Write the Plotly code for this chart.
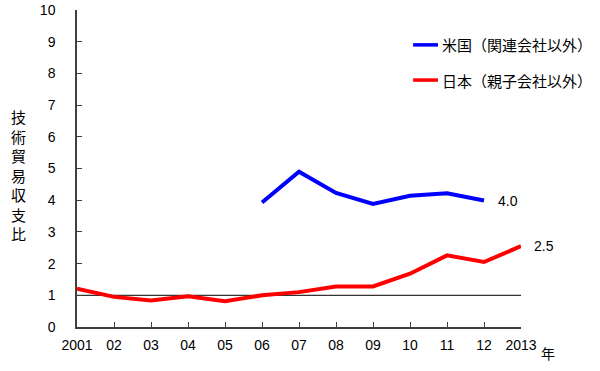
import plotly.graph_objects as go

years = list(range(2001, 2014))
tick_labels = ["2001", "02", "03", "04", "05", "06", "07", "08", "09", "10", "11", "12", "2013"]
us_years = list(range(2006, 2013))
us_values = [3.93, 4.90, 4.23, 3.88, 4.14, 4.22, 3.99]
jp_values = [1.21, 0.95, 0.84, 0.97, 0.81, 1.00, 1.10, 1.28, 1.28, 1.68, 2.26, 2.05, 2.55]
us_name = "米国（関連会社以外）"
jp_name = "日本（親子会社以外）"
y_title = "技術貿易収支比"
us_color = "#0000ff"
jp_color = "#ff0000"

num_font = "Liberation Sans, Arial, sans-serif"
jp_font = "Noto Sans CJK JP, sans-serif"

fig = go.Figure()
fig.add_trace(go.Scatter(x=us_years, y=us_values, mode="lines", name=us_name,
                         line=dict(color=us_color, width=4)))
fig.add_trace(go.Scatter(x=years, y=jp_values, mode="lines", name=jp_name,
                         line=dict(color=jp_color, width=4)))

# reference line at 1
fig.add_shape(type="line", xref="paper", x0=0, x1=1, yref="y", y0=1, y1=1,
              line=dict(color="black", width=1), layer="below")

# end labels
fig.add_annotation(x=us_years[-1], y=us_values[-1], text="4.0", showarrow=False,
                   xanchor="left", xshift=12, font=dict(family=num_font, size=14, color="black"))
fig.add_annotation(x=years[-1], y=jp_values[-1], text="2.5", showarrow=False,
                   xanchor="left", xshift=11, font=dict(family=num_font, size=14, color="black"))
# unit
fig.add_annotation(xref="paper", yref="paper", x=1, y=0, text="年", showarrow=False,
                   xanchor="center", yanchor="middle", xshift=27, yshift=-26,
                   font=dict(family=jp_font, size=14, color="black"))
# y title (vertical)
fig.add_annotation(xref="paper", yref="paper", x=0, y=0.5, text="<br>".join(list(y_title)),
                   showarrow=False, xanchor="center", yanchor="middle", xshift=-59, yshift=-6,
                   font=dict(family=jp_font, size=15, color="black"))

# legend drawn manually
legend_items = [(us_name, us_color, 0.890), (jp_name, jp_color, 0.779)]
for name, color, ly in legend_items:
    fig.add_shape(type="line", xref="paper", yref="paper", x0=0.757, x1=0.813, y0=ly, y1=ly,
                  line=dict(color=color, width=3.5))
    fig.add_annotation(xref="paper", yref="paper", x=0.818, y=ly, text=name, showarrow=False,
                       xanchor="left", yanchor="middle",
                       font=dict(family=jp_font, size=15, color="black"))

fig.update_layout(
    width=600, height=371,
    margin=dict(l=77, r=79, t=10, b=44),
    plot_bgcolor="white", paper_bgcolor="white",
    showlegend=False,
    xaxis=dict(range=[2001, 2013], tickvals=years, ticktext=tick_labels, automargin=False,
               showgrid=False, zeroline=False, showline=True, linecolor="#404040", linewidth=1.5,
               ticks="inside", ticklen=5, tickcolor="#404040", ticklabelstandoff=4,
               tickfont=dict(family=num_font, size=14, color="black")),
    yaxis=dict(range=[0, 10], dtick=1, showgrid=False, zeroline=False, automargin=False,
               showline=True, linecolor="#404040", linewidth=1.5,
               ticks="inside", ticklen=5, tickcolor="#404040", ticklabelstandoff=17,
               tickfont=dict(family=num_font, size=14, color="black")),
)

fig.write_html("out.html", config={"displayModeBar": False},
               post_script="document.body.style.margin='0';")
